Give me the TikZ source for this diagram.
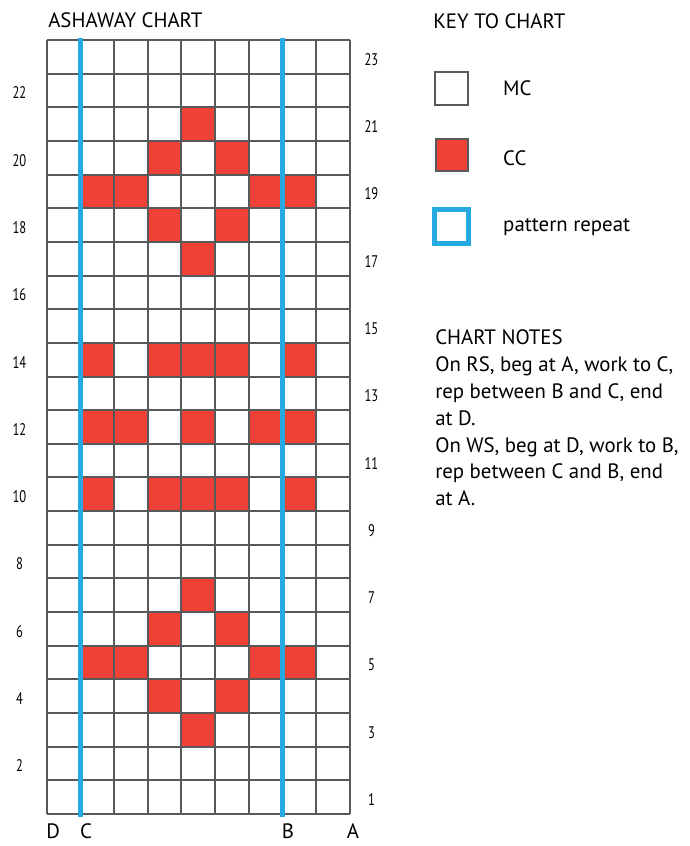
\documentclass[tikz,border=0pt]{standalone}
\usepackage{fontspec}
\setmainfont{PT Sans}
\newfontfamily\rownumfont[FakeStretch=0.75]{PT Sans}
\usepackage{tikz}

\definecolor{gridgray}{HTML}{58595B}
\definecolor{ccred}{HTML}{EF4136}
\definecolor{repblue}{HTML}{27AAE1}

\begin{document}
\begin{tikzpicture}[
  gridline/.style={gridgray,line width=1.7pt},
  repline/.style={repblue,line width=4.2pt},
  charttext/.style={font=\fontsize{17.6}{22.8}\selectfont,inner sep=0pt},
  rownum/.style={font=\rownumfont\fontsize{14.2}{15}\selectfont,inner sep=0pt},
  keybox/.style={draw=gridgray,line width=1.7pt,inner sep=0pt}
]
\useasboundingbox (-1.388,-0.951) rectangle (19.117,24.19);

% contrast colour stitches
\foreach \c/\r in {5/21, 4/20,6/20, 2/19,3/19,7/19,8/19, 4/18,6/18, 5/17,
                   2/14,4/14,5/14,6/14,8/14, 2/12,3/12,5/12,7/12,8/12,
                   2/10,4/10,5/10,6/10,8/10,
                   5/7, 4/6,6/6, 2/5,3/5,7/5,8/5, 4/4,6/4, 5/3}
  \fill[ccred] (\c-1,\r-1) rectangle (\c,\r);

\draw[gridline] (0,0) grid (9,23);

% repeat lines
\draw[repline] (1,-0.09) -- (1,23.07);
\draw[repline] (7,-0.09) -- (7,23.07);

\node[charttext,anchor=base west] (title) at (0.04,23.36) {ASHAWAY CHART};

% row numbers
\foreach \r in {2,4,...,22}
  \node[rownum] (row\r) at (-0.81,\r-0.57) {\r};
\foreach \r in {1,3,...,23}
  \node[rownum] (row\r) at (9.65,\r-0.57) {\r};

\node[charttext,anchor=base] (colD) at (0.19,-0.72) {D};
\node[charttext,anchor=base] (colC) at (1.17,-0.72) {C};
\node[charttext,anchor=base] (colB) at (7.17,-0.72) {B};
\node[charttext,anchor=base] (colA) at (9.10,-0.72) {A};

% key
\node[charttext,anchor=base west] (keytitle) at (11.48,23.33) {KEY TO CHART};
\node[keybox,fill=white,minimum size=0.98cm] (mcbox) at (12.03,21.57) {};
\node[charttext,anchor=base west] (mctext) at (13.56,21.34) {MC};
\node[keybox,fill=ccred,minimum size=0.95cm] (ccbox) at (12.03,19.58) {};
\node[charttext,anchor=base west] (cctext) at (13.56,19.27) {CC};
\node[draw=repblue,line width=4.6pt,inner sep=0pt,minimum size=1.0cm] (repbox) at (12.03,17.46) {};
\node[charttext,anchor=base west] (reptext) at (13.56,17.30) {pattern repeat};

\node[charttext,anchor=north west,align=left] (notes) at (11.54,14.41) {CHART NOTES\\
On RS, beg at A, work to C,\\
rep between B and C, end\\
at D.\\
On WS, beg at D, work to B,\\
rep between C and B, end\\
at A.};
\end{tikzpicture}
\end{document}
